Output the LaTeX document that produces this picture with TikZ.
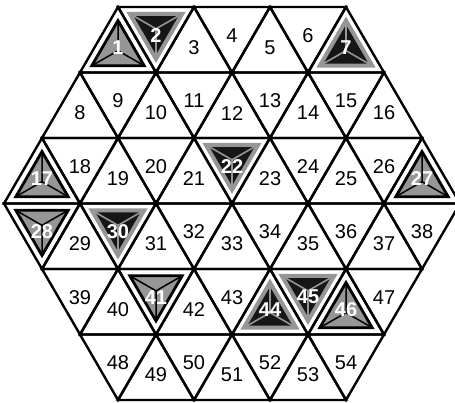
\documentclass[tikz,border=0pt]{standalone}
\usepackage{fontspec}
\setmainfont{Liberation Sans}
\usetikzlibrary{calc}
\definecolor{midgray}{RGB}{150,150,150}
\definecolor{darkfill}{RGB}{22,22,22}
\tikzset{
  cell/.style={draw=black, line width=2.4pt, line join=miter},
  numlabel/.style={font=\fontsize{20}{24}\selectfont, inner sep=0pt},
  hllabel/.style={font=\fontsize{20}{24}\selectfont\bfseries, text=white, inner sep=0pt},
  pyrA/.style={draw=black, line width=2.8pt, fill=midgray, line join=miter},
  spokeA/.style={draw=black, line width=1.5pt},
  pyrB/.style={draw=midgray, line width=4pt, fill=darkfill, line join=miter},
  spokeB/.style={draw=midgray, line width=1.6pt}
}
\begin{document}
\begin{tikzpicture}[x=1pt,y=-1pt]
\useasboundingbox (0,0) rectangle (455,403);
\def\s{76}
\def\h{65.5}
\foreach \k in {1,17,27,28,41,46}{\expandafter\gdef\csname hlA\k\endcsname{}}
\foreach \k in {2,7,22,30,44,45}{\expandafter\gdef\csname hlB\k\endcsname{}}
\foreach \r/\n/\first/\xt/\up in {0/7/1/118/1, 1/9/8/80/1, 2/11/17/42/1, 3/11/28/4/0, 4/9/39/42/0, 5/7/48/80/0} {
  \pgfmathsetmacro\yt{7+\r*\h}
  \pgfmathsetmacro\yb{\yt+\h}
  \pgfmathtruncatemacro\last{\n-1}
  \foreach \i in {0,...,\last} {
    \pgfmathtruncatemacro\num{\first+\i}
    \pgfmathtruncatemacro\isup{mod(\i+\up,2)}
    \ifnum\isup=1
      \pgfmathsetmacro\ax{\xt+ceil(\i/2)*\s}
      \coordinate (va) at (\ax,\yt);
      \coordinate (vb) at (\ax-38,\yb);
      \coordinate (vc) at (\ax+38,\yb);
      \coordinate (cc) at (\ax,\yt+2*\h/3);
      \coordinate (ll) at (\ax,\yt+0.62*\h);
    \else
      \pgfmathsetmacro\lx{\xt+floor(\i/2)*\s}
      \coordinate (va) at (\lx,\yt);
      \coordinate (vb) at (\lx+\s,\yt);
      \coordinate (vc) at (\lx+38,\yb);
      \coordinate (cc) at (\lx+38,\yt+\h/3);
      \coordinate (ll) at (\lx+38,\yt+0.43*\h);
    \fi
    \path[cell] (va) -- (vb) -- (vc) -- cycle;
    \coordinate (ia) at ($(cc)!0.69!(va)$);
    \coordinate (ib) at ($(cc)!0.69!(vb)$);
    \coordinate (ic) at ($(cc)!0.69!(vc)$);
    \ifcsname hlA\num\endcsname
      \path[pyrA] (ia) -- (ib) -- (ic) -- cycle;
      \path[spokeA] (ia) -- (cc) (ib) -- (cc) (ic) -- (cc);
      \node[hllabel] (n\num) at (ll) {\num};
    \else
      \ifcsname hlB\num\endcsname
        \path[pyrB] (ia) -- (ib) -- (ic) -- cycle;
        \path[spokeB] (ia) -- (cc) (ib) -- (cc) (ic) -- (cc);
        \node[hllabel] (n\num) at (ll) {\num};
      \else
        \node[numlabel] (n\num) at (ll) {\num};
      \fi
    \fi
  }
}
\end{tikzpicture}
\end{document}
